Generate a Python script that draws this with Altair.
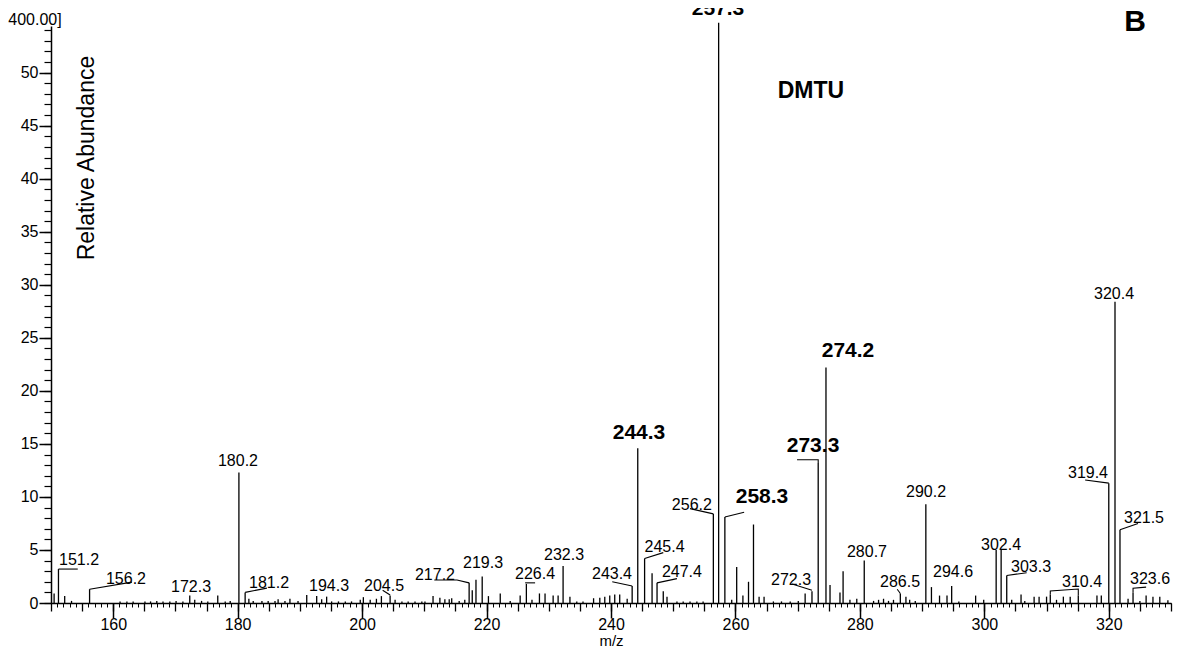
import altair as alt
import pandas as pd

# ---- spectrum peaks (m/z as drawn, relative abundance) ----
peak_mz = [150.5, 151.2, 152.2, 153.3, 156.2, 161.1, 162.2, 163.2, 165.1, 166.0,
           167.0, 168.0, 169.1, 170.1, 171.2, 172.3, 173.1, 174.2, 175.2, 176.8,
           178.0, 178.8, 180.2, 181.2, 181.8, 182.5, 183.9, 184.9, 186.0, 186.5,
           187.6, 188.4, 189.7, 191.1, 192.7, 193.5, 194.3, 195.1, 196.2, 197.3,
           198.3, 199.7, 200.2, 201.3, 202.3, 203.1, 204.5, 205.3, 206.4, 207.4,
           208.5, 209.6, 210.1, 211.4, 212.5, 213.3, 214.0, 214.4, 215.6, 216.5,
           217.2, 217.7, 218.3, 219.3, 220.3, 222.2, 223.8, 225.4, 226.4, 227.3,
           228.5, 229.4, 230.7, 231.5, 232.3, 233.4, 234.5, 235.5, 237.2, 238.2,
           239.0, 239.8, 240.6, 241.4, 242.6, 243.4, 244.3, 245.4, 246.6, 247.4,
           248.4, 249.0, 250.6, 251.6, 252.7, 253.8, 254.8, 256.45, 257.3, 258.3,
           259.4, 260.2, 261.2, 262.1, 262.9, 263.8, 264.6, 266.1, 267.4, 268.8,
           270.1, 271.2, 272.3, 273.3, 274.55, 275.2, 276.8, 277.3, 278.4, 279.5,
           280.7, 282.2, 283.0, 283.8, 284.6, 285.4, 286.5, 287.4, 288.0, 288.9,
           290.6, 291.5, 292.8, 294.0, 294.75, 295.9, 298.6, 299.9, 301.9, 302.7,
           303.6, 304.4, 305.9, 306.5, 308.0, 308.8, 310.0, 310.6, 311.6, 312.7,
           313.8, 315.1, 318.1, 318.8, 320.0, 321.0, 321.8, 323.1, 323.9, 325.0,
           326.0, 327.1, 328.2, 329.5]
peak_int = [0.9, 3.2, 0.65, 0.2, 1.3, 0.15, 0.15, 0.15, 0.15, 0.15,
            0.2, 0.15, 0.15, 0.2, 0.15, 0.7, 0.3, 0.2, 0.15, 0.7,
            0.15, 0.2, 12.3, 1.0, 0.4, 0.2, 0.2, 0.2, 0.2, 0.35,
            0.2, 0.4, 0.2, 0.75, 0.65, 0.35, 0.6, 0.15, 0.15, 0.15,
            0.15, 0.3, 0.55, 0.3, 0.4, 0.65, 0.7, 0.3, 0.15, 0.15,
            0.15, 0.15, 0.15, 0.65, 0.5, 0.35, 0.35, 0.45, 0.2, 0.3,
            1.9, 1.2, 2.2, 2.5, 0.65, 0.9, 0.2, 0.7, 1.8, 0.3,
            0.9, 0.9, 0.7, 0.7, 3.5, 0.6, 0.15, 0.15, 0.45, 0.5,
            0.6, 0.7, 0.8, 0.8, 0.4, 1.6, 14.6, 4.2, 2.8, 1.9,
            1.1, 0.6, 0.15, 0.15, 0.15, 0.15, 0.15, 8.4, 54.7, 8.1,
            0.3, 3.4, 0.7, 2.0, 7.4, 0.6, 0.6, 0.15, 0.15, 0.15,
            0.2, 0.9, 1.1, 13.2, 22.2, 1.7, 1.0, 3.0, 0.3, 0.4,
            4.0, 0.2, 0.3, 0.4, 0.2, 0.3, 0.9, 0.6, 0.3, 0.2,
            9.3, 1.5, 0.7, 0.7, 1.6, 0.15, 0.7, 0.3, 5.0, 5.0,
            2.6, 0.3, 0.8, 0.2, 0.6, 0.6, 0.6, 0.8, 0.3, 0.6,
            0.6, 0.7, 0.7, 0.7, 11.3, 28.4, 6.9, 0.4, 1.0, 0.2,
            0.7, 0.6, 0.6, 0.25]

# ---- peak labels (regular) ----
label_text = ["151.2", "156.2", "172.3", "180.2", "181.2", "194.3", "204.5",
              "217.2", "219.3", "226.4", "232.3", "243.4", "245.4", "247.4",
              "256.2", "272.3", "280.7", "286.5", "290.2", "294.6", "302.4",
              "303.3", "310.4", "319.4", "320.4", "321.5", "323.6"]
label_mz = [154.5, 162.05, 172.5, 180.05, 185.04, 194.68, 203.52,
            211.71, 219.43, 227.79, 232.45, 240.16, 248.6, 251.4,
            253.0, 268.93, 281.14, 286.45, 290.63, 294.97, 302.68,
            307.5, 315.7, 316.66, 320.84, 325.66, 326.63]
label_int = [3.58, 1.79, 1.04, 12.92, 1.41, 1.13, 1.13,
             2.17, 3.30, 2.26, 4.05, 2.26, 4.81, 2.45,
             8.77, 1.70, 4.34, 1.51, 9.99, 2.45, 5.0,
             2.92, 1.51, 11.78, 28.66, 7.54, 1.79]

# ---- peak labels (bold) ----
bold_text = ["244.3", "258.3", "273.3", "274.2", "257.3"]
bold_mz = [244.5, 264.27, 272.47, 278.09, 257.2]
bold_int = [15.46, 9.43, 14.24, 23.19, 55.44]

# ---- leader lines from peak tops to labels ----
leader_id = [1, 1, 2, 2, 3, 3, 4, 4, 5, 5, 5, 6, 6, 7, 7, 8, 8, 9, 9, 10, 10,
             11, 11, 12, 12, 13, 13, 13, 14, 14, 15, 15, 16, 16, 16, 16,
             17, 17, 18, 18, 19, 19, 19]
leader_mz = [151.2, 154.3, 156.2, 163.0, 181.2, 184.7, 203.3, 204.5,
             211.6, 215.25, 217.2, 226.2, 227.8, 240.2, 243.4, 245.4, 248.4,
             247.4, 250.6, 252.7, 256.45, 258.3, 261.4, 269.1, 272.3,
             269.9, 273.3, 273.3, 286.0, 286.5, 303.6, 306.8,
             310.6, 310.6, 315.1, 315.1, 316.2, 320.0, 321.8, 324.7,
             323.9, 323.9, 326.0]
leader_int = [3.2, 3.2, 1.3, 1.97, 1.0, 1.4, 1.2, 0.75,
              2.17, 2.17, 1.9, 1.9, 1.9, 2.0, 1.6, 4.2, 4.75,
              1.9, 2.3, 8.9, 8.4, 8.1, 8.55, 1.8, 1.2,
              13.5, 13.5, 13.2, 1.3, 0.9, 2.6, 2.85,
              0.8, 1.13, 1.32, 0.7, 11.6, 11.3, 6.9, 7.5,
              1.0, 1.4, 1.5]

# ---- other annotations ----
compound_label = "DMTU"
compound_pos = (272.14, 47.6)
panel_label = "B"
panel_pos = (324.22, 53.9)
range_label = "400.00]"
range_pos = (147.43, 54.49)
y_title = "Relative Abundance"
y_title_pos = (155.79, 41.95)
x_title = "m/z"

X_DOM = [150, 330]
Y_DOM = [0, 54.4]
FONT = "Liberation Sans"

peaks = pd.DataFrame({"mz": peak_mz, "ab": peak_int})
labels = pd.DataFrame({"mz": label_mz, "ab": label_int, "t": label_text})
bolds = pd.DataFrame({"mz": bold_mz, "ab": bold_int, "t": bold_text})
leaders = pd.DataFrame({"id": leader_id, "mz": leader_mz, "ab": leader_int,
                        "seq": list(range(len(leader_id)))})


def one(pos, text):
    return pd.DataFrame({"mz": [pos[0]], "ab": [pos[1]], "t": [text]})


xs = alt.Scale(domain=X_DOM, nice=False, zero=False)
ys = alt.Scale(domain=Y_DOM, nice=False, zero=False)

ax_major = alt.Axis(orient="bottom", values=list(range(160, 321, 20)), tickSize=15,
                    tickWidth=1.5, tickColor="black", domainColor="black", domainWidth=1.5,
                    labelFont=FONT, labelFontSize=16, labelColor="black", labelPadding=-2,
                    labelFlush=False, grid=False, title=x_title, titleFont=FONT,
                    titleFontSize=15, titleFontWeight="normal", titleColor="black",
                    titleY=42, titleBaseline="alphabetic")
ax_med = alt.Axis(orient="bottom", values=list(range(150, 331, 5)), tickSize=8,
                  tickWidth=1.3, tickColor="black", labels=False, domain=False,
                  grid=False, title=None)
ax_min = alt.Axis(orient="bottom", values=list(range(150, 331, 1)), tickSize=4,
                  tickWidth=1, tickColor="black", labels=False, domain=False,
                  grid=False, title=None)
ay_major = alt.Axis(orient="left", values=list(range(0, 51, 5)), tickSize=12,
                    tickWidth=1.5, tickColor="black", domainColor="black", domainWidth=1.5,
                    labelFont=FONT, labelFontSize=16, labelColor="black", labelPadding=1,
                    labelFlush=False, grid=False, title=None)
ay_minor = alt.Axis(orient="left", values=list(range(0, 55, 1)), tickSize=7,
                    tickWidth=1.2, tickColor="black", labels=False, domain=False,
                    grid=False, title=None)

rules = alt.Chart(peaks).mark_rule(color="black", strokeWidth=1.3).encode(
    x=alt.X("mz:Q", scale=xs, axis=ax_major),
    y=alt.Y("ab:Q", scale=ys, axis=ay_major),
    y2=alt.datum(0),
)

reg = alt.Chart(labels).mark_text(font=FONT, fontSize=16, align="center",
                                  baseline="alphabetic", color="black").encode(
    x=alt.X("mz:Q", scale=xs, axis=ax_med),
    y=alt.Y("ab:Q", scale=ys, axis=ay_minor),
    text="t:N",
)

bold = alt.Chart(bolds).mark_text(font=FONT, fontSize=21, fontWeight="bold",
                                  align="center", baseline="alphabetic",
                                  color="black").encode(
    x=alt.X("mz:Q", scale=xs, axis=ax_min),
    y=alt.Y("ab:Q", scale=ys, axis=None),
    text="t:N",
)

lead = alt.Chart(leaders).mark_line(color="black", strokeWidth=1.1).encode(
    x=alt.X("mz:Q", scale=xs, axis=None),
    y=alt.Y("ab:Q", scale=ys, axis=None),
    detail="id:N",
    order="seq:Q",
)


def text_layer(df, **kw):
    return alt.Chart(df).mark_text(font=FONT, color="black", align="center",
                                   baseline="alphabetic", **kw).encode(
        x=alt.X("mz:Q", scale=xs, axis=None),
        y=alt.Y("ab:Q", scale=ys, axis=None),
        text="t:N",
    )


dmtu = text_layer(one(compound_pos, compound_label), fontSize=23, fontWeight="bold")
panel = text_layer(one(panel_pos, panel_label), fontSize=30, fontWeight="bold")
rng = text_layer(one(range_pos, range_label), fontSize=16)
ytit = alt.Chart(one(y_title_pos, y_title)).mark_text(
    font=FONT, color="black", align="center", baseline="middle", angle=270,
    fontSize=23).encode(
    x=alt.X("mz:Q", scale=xs, axis=None),
    y=alt.Y("ab:Q", scale=ys, axis=None),
    text="t:N",
)

chart = alt.layer(rules, reg, bold, lead, dmtu, panel, rng, ytit).resolve_scale(
    x="independent", y="independent"
).properties(
    width=1120, height=577,
    padding={"left": 43, "top": 18, "right": 6, "bottom": 46},
    autosize=alt.AutoSizeParams(type="none"),
    background="white",
).configure_view(stroke=None)

chart.save("out.html", embed_options={"renderer": "svg", "actions": False})
